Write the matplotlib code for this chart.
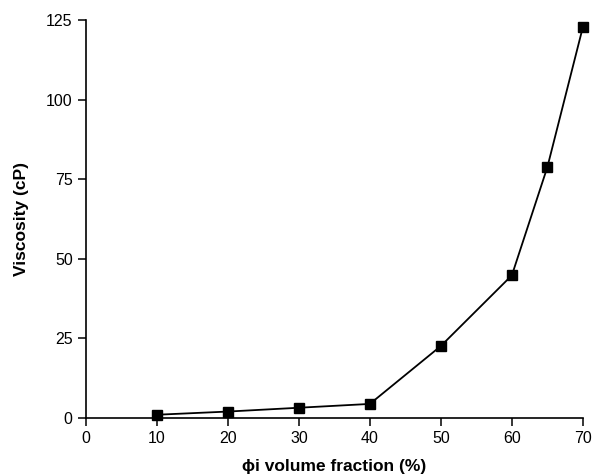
import matplotlib
matplotlib.use("Agg")
import matplotlib.pyplot as plt

plt.rcParams['font.family'] = ['Liberation Sans', 'DejaVu Sans']

# dati
frazione = [10, 20, 30, 40, 50, 60, 65, 70]
viscosita = [1.0, 2.0, 3.2, 4.4, 22.6, 44.8, 78.8, 122.8]
yticks = [0, 25, 50, 75, 100, 125]
xticks = [0, 10, 20, 30, 40, 50, 60, 70]

fig = plt.figure(figsize=(5.96, 4.76), dpi=100)
ax = fig.add_axes([0.144, 0.122, 0.834, 0.836])

ax.plot(frazione, viscosita, color='black', lw=1.3, marker='s', ms=7,
        markerfacecolor='black', markeredgecolor='black', clip_on=False)

ax.set_xlim(0, 70)
ax.set_ylim(0, 125)
ax.set_xticks(xticks)
ax.set_yticks(yticks)
ax.spines['top'].set_visible(False)
ax.spines['right'].set_visible(False)
ax.spines['left'].set_linewidth(1.2)
ax.spines['bottom'].set_linewidth(1.2)
ax.tick_params(direction='out', length=6, width=1.1, labelsize=11.5)

ax.set_xlabel('ϕi volume fraction (%)', fontsize=12.5, fontweight='bold', labelpad=9)
ax.set_ylabel('Viscosity (cP)', fontsize=12.5, fontweight='bold', labelpad=12)

plt.savefig('out.png', dpi=100)
